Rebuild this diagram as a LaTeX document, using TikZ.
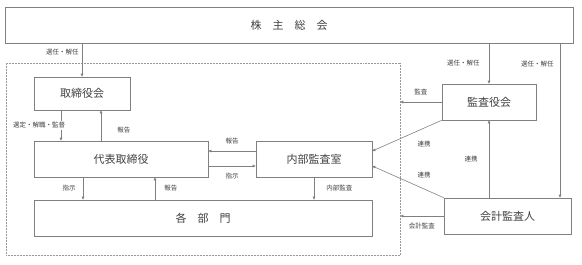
\documentclass[tikz,border=0pt]{standalone}
\usepackage{fontspec}
\setmainfont{Noto Sans CJK JP}
\usetikzlibrary{arrows.meta}
\begin{document}
\begin{tikzpicture}[x=1pt, y=-1pt,
    box/.style={draw=black!50, line width=0.6pt, inner sep=0pt, text=black!75,
        font=\fontsize{11}{13}\selectfont},
    arr/.style={draw=black!50, line width=0.6pt, -{Triangle[length=3pt, width=2.6pt]}},
    lbl/.style={font=\fontsize{6.5}{7}\selectfont, text=black!75, inner sep=1pt}]
    \useasboundingbox (0,0) rectangle (582,265);

    % Company frame (dotted)
    \node[draw=black!40, densely dotted, line width=0.5pt, inner sep=0pt,
        minimum width=394pt, minimum height=192pt] (frame) at (203,159) {};

    % Boxes
    \node[box, minimum width=568pt, minimum height=36pt] (gm) at (289,25) {株\hspace{1em}主\hspace{1em}総\hspace{1em}会};
    \node[box, minimum width=96pt, minimum height=33pt] (board) at (82,93.5) {取締役会};
    \node[box, minimum width=174pt, minimum height=36pt] (ceo) at (121,159) {代表取締役};
    \node[box, minimum width=116pt, minimum height=36pt] (audit) at (314,159) {内部監査室};
    \node[box, minimum width=338pt, minimum height=36pt] (dept) at (203,218) {各\hspace{1em}部\hspace{1em}門};
    \node[box, minimum width=94pt, minimum height=36pt] (kansa) at (489,102) {監査役会};
    \node[box, minimum width=127pt, minimum height=36pt] (kaikei) at (507.5,216) {会計監査人};

    % Shareholders' meeting
    \draw[arr] (board.north |- gm.south) -- (board.north) node[lbl, pos=0.26, left=2pt] {選任・解任};
    \draw[arr] (kansa.north |- gm.south) -- (kansa.north) node[lbl, midway, left=8pt] {選任・解任};
    \draw[arr] ([xshift=52.5pt]kaikei.north |- gm.south) -- ([xshift=52.5pt]kaikei.north) node[lbl, pos=0.135, left=5pt] {選任・解任};

    % Board and president
    \draw[arr] ([xshift=-21pt]board.south) -- ([xshift=-21pt]board.south |- ceo.north)
        node[lbl, fill=white, midway, xshift=-22pt] {選定・解職・監督};
    \draw[arr] ([xshift=19pt]board.south |- ceo.north) -- ([xshift=19pt]board.south) node[lbl, pos=0.35, right=15pt] {報告};

    % President and internal audit
    \draw[arr] ([yshift=8pt]audit.west) -- ([yshift=8pt]audit.west -| ceo.east) node[lbl, midway, above=6pt] {報告};
    \draw[arr] ([yshift=-7pt]ceo.east) -- ([yshift=-7pt]ceo.east -| audit.west) node[lbl, midway, below=6pt] {指示};

    % Departments
    \draw[arr] ([xshift=-38pt]ceo.south) -- ([xshift=-38pt]ceo.south |- dept.north) node[lbl, midway, left=6pt] {指示};
    \draw[arr] ([xshift=34pt]ceo.south |- dept.north) -- ([xshift=34pt]ceo.south) node[lbl, midway, right=8pt] {報告};
    \draw[arr] (audit.south) -- (audit.south |- dept.north) node[lbl, midway, right=11pt] {内部監査};

    % Auditors
    \draw[arr] (kansa.west) -- (kansa.west -| frame.east) node[lbl, midway, above=6pt] {監査};
    \draw[arr] (kaikei.west) -- (kaikei.west -| frame.east) node[lbl, midway, below=6pt] {会計監査};
    \draw[arr] (kansa.south west) -- ([yshift=8pt]audit.east);
    \draw[arr] (kaikei.north west) -- ([yshift=-7pt]audit.east);
    \draw[arr] (kansa.south |- kaikei.north) -- (kansa.south) node[lbl, midway, left=10pt] {連携};
    \node[lbl] (link1) at (424,144) {連携};
    \node[lbl] (link2) at (424,175) {連携};
\end{tikzpicture}
\end{document}
